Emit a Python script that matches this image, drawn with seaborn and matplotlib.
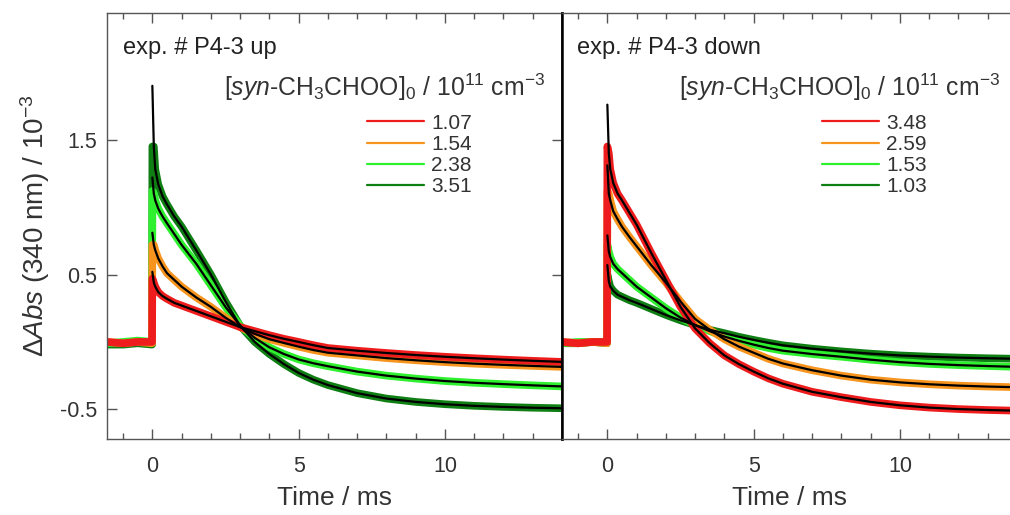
import numpy as np
import pandas as pd
import matplotlib
matplotlib.use("Agg")
import matplotlib.pyplot as plt
import seaborn as sns
from matplotlib.lines import Line2D
from matplotlib.ticker import MultipleLocator

# ---------------- data ----------------
t_pre = [-1.55, -1.0, -0.5, -0.01]          # pre-trigger baseline times (ms)
t_fit = [0.0, 0.05, 0.1, 0.2, 0.35, 0.5, 0.75, 1.0, 1.5, 2.0, 2.5, 3.0,
         3.5, 4.0, 4.5, 5.0, 5.5, 6.0, 7.0, 8.0, 9.0, 10.0, 11.0, 12.0, 13.0, 14.0]

colors = ["#ee1c1c", "#f7941d", "#2ef02e", "#0f7f14"]

# left panel: exp. # P4-3 up
conc_up = ["1.07", "1.54", "2.38", "3.51"]
base_up = [[0.0, -0.01, 0.0, 0.0], [0.0, -0.01, 0.0, -0.01],
           [-0.01, 0.0, 0.01, 0.0], [-0.02, -0.02, -0.01, -0.02]]
peak_up = [0.47, 0.72, 1.12, 1.45]
up_107 = [0.52, 0.44, 0.41, 0.37, 0.34, 0.32, 0.29, 0.27, 0.23, 0.19, 0.15, 0.11,
          0.08, 0.05, 0.023, 0.0, -0.024, -0.045, -0.065, -0.082, -0.097, -0.11,
          -0.121, -0.131, -0.14, -0.148]
up_154 = [0.81, 0.72, 0.68, 0.62, 0.56, 0.51, 0.46, 0.41, 0.33, 0.26, 0.18, 0.11,
          0.06, 0.02, -0.008, -0.035, -0.06, -0.08, -0.10, -0.12, -0.136, -0.15,
          -0.161, -0.17, -0.178, -0.185]
up_238 = [1.22, 1.10, 1.05, 0.99, 0.93, 0.88, 0.80, 0.72, 0.58, 0.42, 0.26, 0.12,
          0.03, -0.04, -0.09, -0.13, -0.158, -0.18, -0.22, -0.25, -0.272, -0.29,
          -0.303, -0.313, -0.322, -0.33]
up_351 = [1.90, 1.45, 1.28, 1.17, 1.08, 1.02, 0.93, 0.855, 0.68, 0.50, 0.30, 0.12,
          0.0, -0.09, -0.165, -0.23, -0.28, -0.32, -0.38, -0.42, -0.445, -0.462,
          -0.474, -0.482, -0.488, -0.492]
fits_up = [up_107, up_154, up_238, up_351]

# right panel: exp. # P4-3 down
conc_down = ["3.48", "2.59", "1.53", "1.03"]
base_down = [[0.0, -0.01, 0.0, 0.0], [0.0, -0.01, 0.0, -0.01],
             [-0.01, 0.0, 0.0, 0.0], [-0.01, -0.01, 0.0, -0.01]]
peak_down = [1.45, 1.12, 0.72, 0.50]
dn_348 = [1.76, 1.40, 1.28, 1.18, 1.10, 1.05, 0.96, 0.87, 0.66, 0.46, 0.26, 0.10,
          -0.01, -0.10, -0.165, -0.22, -0.27, -0.31, -0.37, -0.41, -0.445, -0.47,
          -0.487, -0.498, -0.505, -0.51]
dn_259 = [1.31, 1.10, 1.05, 0.97, 0.91, 0.855, 0.78, 0.71, 0.57, 0.44, 0.30, 0.17,
          0.09, 0.02, -0.035, -0.08, -0.125, -0.16, -0.21, -0.25, -0.28, -0.30,
          -0.314, -0.324, -0.331, -0.336]
dn_153 = [0.79, 0.67, 0.63, 0.58, 0.54, 0.51, 0.46, 0.41, 0.33, 0.25, 0.18, 0.125,
          0.08, 0.04, 0.008, -0.02, -0.045, -0.065, -0.09, -0.11, -0.132, -0.15,
          -0.163, -0.172, -0.179, -0.185]
dn_103 = [0.57, 0.45, 0.41, 0.38, 0.35, 0.335, 0.31, 0.29, 0.245, 0.20, 0.16, 0.125,
          0.09, 0.065, 0.038, 0.015, -0.006, -0.025, -0.05, -0.07, -0.087, -0.10,
          -0.109, -0.116, -0.121, -0.125]
fits_down = [dn_348, dn_259, dn_153, dn_103]

x_major = [0, 5, 10]
y_major = [-0.5, 0.5, 1.5]

# ---------------- style ----------------
sns.set_theme(style="ticks")
plt.rcParams["font.family"] = ["Liberation Sans", "DejaVu Sans"]
plt.rcParams["mathtext.fontset"] = "custom"
plt.rcParams["mathtext.rm"] = "Liberation Sans"
plt.rcParams["mathtext.it"] = "Liberation Sans:italic"
plt.rcParams["mathtext.sf"] = "Liberation Sans"
plt.rcParams["axes.unicode_minus"] = False
TXT = "#333333"

W, H = 1010, 515
fig = plt.figure(figsize=(W / 100, H / 100), dpi=100)
axL = fig.add_axes([107 / W, 1 - 439 / H, 455 / W, 426 / H])
axR = fig.add_axes([562 / W, 1 - 439 / H, 455 / W, 426 / H])


def draw(ax, concs, bases, peaks, fits, col_order):
    # noisy data traces (drawn wide), red last
    for i in col_order:
        tt = t_pre + [0.0] + t_fit[1:]
        vv = bases[i] + [peaks[i]] + fits[i][1:]
        df = pd.DataFrame({"t": tt, "v": vv})
        sns.lineplot(data=df, x="t", y="v", ax=ax, color=colors[i],
                     lw=5.5, sort=False, estimator=None, legend=False,
                     solid_joinstyle="round")
    for i in col_order:
        df = pd.DataFrame({"t": t_fit, "v": fits[i]})
        sns.lineplot(data=df, x="t", y="v", ax=ax, color="black", lw=1.6,
                     sort=False, estimator=None, legend=False)
    ax.set_xlim(-1.55, 14.0)
    ax.set_ylim(-0.72, 2.44)
    ax.set_xticks(x_major)
    ax.xaxis.set_minor_locator(MultipleLocator(1))
    ax.set_xlabel("Time / ms", fontsize=19, color=TXT, labelpad=7)
    ax.tick_params(axis="x", which="both", direction="in", top=True,
                   colors="#555555", labelcolor=TXT, labelsize=15.5, pad=12)
    ax.tick_params(axis="x", which="major", length=7, width=1)
    ax.tick_params(axis="x", which="minor", length=4, width=1)
    for s in ax.spines.values():
        s.set_color("#555555")
        s.set_linewidth(1.0)
    handles = [Line2D([0], [0], color=colors[i], lw=1.6) for i in range(4)]
    ax.legend(handles, concs, loc="upper left", bbox_to_anchor=(0.571, 0.764),
              frameon=False, fontsize=15, handlelength=2.75, handletextpad=0.35,
              labelspacing=0.11, borderpad=0, borderaxespad=0,
              labelcolor=TXT)
    ax.text(0.963, 0.805,
            r"[$\mathit{syn}$-CH$_3$CHOO]$_0$ / 10$^{11}$ cm$^{-3}$",
            transform=ax.transAxes, ha="right", va="baseline",
            fontsize=17.8, color=TXT)


draw(axL, conc_up, base_up, peak_up, fits_up, [3, 2, 1, 0])
draw(axR, conc_down, base_down, peak_down, fits_down, [3, 2, 1, 0])

axL.text(0.035, 0.903, "exp. # P4-3 up", transform=axL.transAxes,
         ha="left", va="baseline", fontsize=17, color="#222222")
axR.text(0.033, 0.903, "exp. # P4-3 down", transform=axR.transAxes,
         ha="left", va="baseline", fontsize=17, color="#222222")

axL.set_yticks(y_major)
axL.set_yticklabels([f"{v:g}" for v in y_major])
axL.tick_params(axis="y", which="both", direction="in", right=True,
                colors="#555555", labelcolor=TXT, labelsize=15.5, pad=7,
                length=7, width=1)
axL.set_ylabel("Δ" + r"$\mathit{Abs}$ (340 nm) / 10$^{-3}$", fontsize=20,
               color=TXT, labelpad=6)
axL.spines["right"].set_color("black")
axL.spines["right"].set_linewidth(1.8)

axR.set_yticks(y_major)
axR.tick_params(axis="y", which="both", left=False, right=False,
                labelleft=False)
axR.set_ylabel("")
axR.spines["left"].set_color("black")
axR.spines["left"].set_linewidth(1.8)

fig.savefig("out.png", dpi=100)
